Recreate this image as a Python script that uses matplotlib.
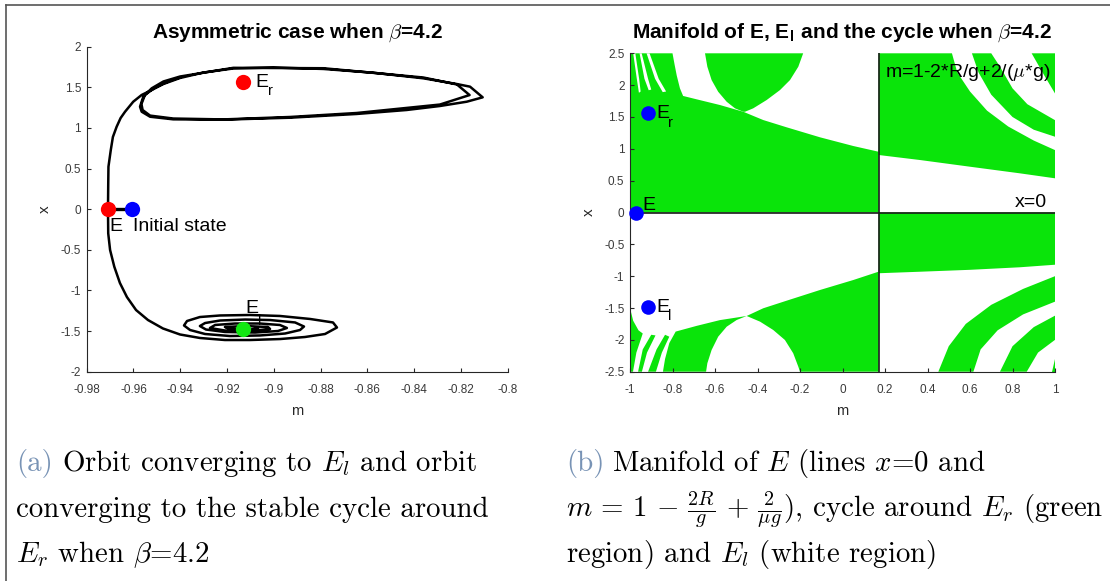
import matplotlib
matplotlib.use("Agg")
import matplotlib.pyplot as plt
from matplotlib.patches import Polygon
from matplotlib.lines import Line2D

plt.rcParams["mathtext.fontset"] = "cm"
plt.rcParams["axes.unicode_minus"] = False
plt.rcParams["font.family"] = ["Liberation Sans", "DejaVu Sans"]

SANS = "Liberation Sans"
SERIF = "cmr10"
GREEN = "#0ae40a"
AX_COL = "#262626"
TICK_COL = "#3a3a3a"
CAP_BLUE = "#7893b5"

# ---------------- panel (a) data ----------------
a_xticks = [-0.98, -0.96, -0.94, -0.92, -0.9, -0.88, -0.86, -0.84, -0.82, -0.8]
a_xticklabels = ["-0.98", "-0.96", "-0.94", "-0.92", "-0.9", "-0.88", "-0.86", "-0.84", "-0.82", "-0.8"]
a_yticks = [2, 1.5, 1, 0.5, 0, -0.5, -1, -1.5, -2]
a_yticklabels = ["2", "1.5", "1", "0.5", "0", "-0.5", "-1", "-1.5", "-2"]

E_m, E_x = -0.9708, 0.0
init_m, init_x = -0.9608, 0.0
Er_m, Er_x = -0.913, 1.56
El_m, El_x = -0.913, -1.478

orbit_up_m = [-0.9709, -0.9708, -0.9707, -0.9697, -0.9688, -0.9672, -0.9655, -0.9636, -0.9601,
              -0.9565, -0.9522, -0.9472, -0.9401, -0.9301, -0.9173, -0.9002, -0.8788, -0.8575,
              -0.8361, -0.8218, -0.8161, -0.8107, -0.8175, -0.8290, -0.8432, -0.8646, -0.8931,
              -0.9216, -0.9430, -0.9529, -0.9565, -0.9572, -0.9558, -0.9522, -0.9472, -0.9401,
              -0.9173, -0.8788, -0.8361, -0.8217, -0.8163, -0.8290, -0.8646, -0.8931, -0.9216,
              -0.9430, -0.9529, -0.9561, -0.9566, -0.9551, -0.9508, -0.9452, -0.9401]
orbit_up_x = [0.0, 0.298, 0.523, 0.729, 0.889, 1.015, 1.122, 1.200, 1.323,
              1.406, 1.467, 1.541, 1.615, 1.682, 1.732, 1.744, 1.726, 1.680,
              1.611, 1.541, 1.508, 1.377, 1.323, 1.270, 1.221, 1.172, 1.126,
              1.102, 1.106, 1.138, 1.200, 1.262, 1.385, 1.488, 1.572, 1.633,
              1.740, 1.735, 1.621, 1.535, 1.405, 1.288, 1.184, 1.135, 1.105,
              1.116, 1.152, 1.221, 1.295, 1.406, 1.498, 1.572, 1.621]

orbit_down_m = [-0.9709, -0.9708, -0.9700, -0.9682, -0.9658, -0.9628, -0.9589, -0.9538, -0.9474,
                -0.9401, -0.9316, -0.9209, -0.9102, -0.8973, -0.8867, -0.8781, -0.8730, -0.8747,
                -0.8845, -0.8974, -0.9102, -0.9230, -0.9316, -0.9371, -0.9384, -0.9358, -0.9294,
                -0.9187, -0.9059, -0.8952, -0.8888, -0.8871, -0.8909, -0.9016, -0.9123, -0.9230,
                -0.9294, -0.9316, -0.9290, -0.9209, -0.9080, -0.8982, -0.8944, -0.8974, -0.9059,
                -0.9166, -0.9251, -0.9273, -0.9209, -0.9080, -0.9016, -0.9025, -0.9123, -0.9209,
                -0.9187, -0.9102, -0.9068]
orbit_down_x = [0.0, -0.297, -0.502, -0.708, -0.908, -1.081, -1.241, -1.364, -1.468,
                -1.542, -1.585, -1.610, -1.610, -1.598, -1.573, -1.536, -1.456, -1.394,
                -1.351, -1.314, -1.302, -1.308, -1.327, -1.376, -1.431, -1.487, -1.536,
                -1.561, -1.554, -1.530, -1.487, -1.444, -1.394, -1.364, -1.358, -1.370,
                -1.401, -1.438, -1.481, -1.511, -1.518, -1.499, -1.462, -1.425, -1.407,
                -1.407, -1.425, -1.462, -1.493, -1.493, -1.474, -1.450, -1.438, -1.450,
                -1.474, -1.481, -1.468]

# ---------------- panel (b) data ----------------
b_xticks = [-1, -0.8, -0.6, -0.4, -0.2, 0, 0.2, 0.4, 0.6, 0.8, 1]
b_xticklabels = ["-1", "-0.8", "-0.6", "-0.4", "-0.2", "0", "0.2", "0.4", "0.6", "0.8", "1"]
b_yticks = [2.5, 2, 1.5, 1, 0.5, 0, -0.5, -1, -1.5, -2, -2.5]
b_yticklabels = ["2.5", "2", "1.5", "1", "0.5", "0", "-0.5", "-1", "-1.5", "-2", "-2.5"]

m_star = 0.17                  # m = 1 - 2R/g + 2/(mu g)
manifold_h_m = [-1.0, 1.0]
manifold_h_x = [0.0, 0.0]
manifold_v_m = [m_star, m_star]
manifold_v_x = [-2.5, 2.5]

# green (cycle around Er) regions, vertices as (m, x)
green_upper_left = [(0.17, 0.0), (0.17, 0.954), (0.051, 1.044), (-0.106, 1.181), (-0.263, 1.338),
                    (-0.373, 1.452), (-0.467, 1.582), (-0.577, 1.688), (-0.686, 1.777),
                    (-0.75, 1.83), (-0.765, 1.95), (-0.78, 2.15), (-0.79, 2.32), (-0.80, 2.5),
                    (-1.0, 2.5), (-1.0, 0.0)]
green_top_bowl = [(-0.647, 2.5), (-0.636, 2.289), (-0.616, 2.080), (-0.585, 1.896), (-0.545, 1.739),
                  (-0.506, 1.636), (-0.467, 1.582), (-0.459, 1.582), (-0.420, 1.636),
                  (-0.357, 1.766), (-0.294, 1.923), (-0.247, 2.080), (-0.208, 2.289), (-0.185, 2.5)]
white_stripes_ul = [
    [(-0.985, 2.5), (-0.975, 2.5), (-0.957, 2.1), (-0.950, 1.90), (-0.958, 1.88), (-0.968, 2.1)],
    [(-0.955, 2.5), (-0.945, 2.5), (-0.915, 2.1), (-0.900, 1.93), (-0.912, 1.92), (-0.932, 2.1)],
    [(-0.922, 2.5), (-0.908, 2.5), (-0.865, 2.1), (-0.830, 1.90), (-0.846, 1.89), (-0.882, 2.1)],
]
green_lower_right_of_bowl = [(0.17, -0.929), (0.051, -1.060), (-0.106, -1.217), (-0.263, -1.385),
                             (-0.373, -1.504), (-0.451, -1.625), (-0.388, -1.714), (-0.326, -1.845),
                             (-0.271, -2.002), (-0.232, -2.210), (-0.208, -2.421), (-0.2, -2.5),
                             (0.17, -2.5)]
green_lower_left_of_bowl = [(-0.451, -1.625), (-0.498, -1.688), (-0.545, -1.793), (-0.585, -1.950),
                            (-0.616, -2.159), (-0.636, -2.367), (-0.642, -2.5), (-0.845, -2.5),
                            (-0.835, -2.3), (-0.815, -2.05), (-0.785, -1.87), (-0.686, -1.78),
                            (-0.577, -1.69)]
green_stripes_ll = [
    [(-0.915, -2.5), (-0.878, -2.5), (-0.850, -2.2), (-0.815, -1.95), (-0.835, -1.92), (-0.875, -2.15)],
    [(-0.962, -2.5), (-0.944, -2.5), (-0.920, -2.2), (-0.880, -1.93), (-0.900, -1.92), (-0.940, -2.15)],
    [(-1.0, -2.5), (-0.986, -2.5), (-0.970, -2.2), (-0.940, -1.90), (-0.960, -1.85), (-0.985, -1.70),
     (-1.0, -1.5)],
]
green_upper_right = [(0.17, 0.903), (0.17, 2.5), (0.515, 2.5), (0.54, 2.2), (0.60, 1.9), (0.68, 1.6),
                     (0.78, 1.35), (0.90, 1.13), (1.0, 0.98), (1.0, 0.537), (0.835, 0.615),
                     (0.60, 0.719), (0.365, 0.824)]
green_upper_right_band = [(0.609, 2.5), (0.70, 2.5), (0.741, 2.29), (0.80, 1.95), (0.87, 1.70),
                          (1.0, 1.45), (1.0, 1.19), (0.90, 1.30), (0.80, 1.50), (0.70, 1.85),
                          (0.64, 2.2)]
green_upper_right_corner = [(0.89, 2.5), (1.0, 2.5), (1.0, 1.87), (0.95, 2.15)]
green_lower_right = [(0.17, 0.0), (1.0, 0.0), (1.0, -0.82), (0.835, -0.86), (0.60, -0.90),
                     (0.365, -0.93), (0.17, -0.954)]
green_lower_arc1 = [(0.451, -2.5), (0.50, -2.1), (0.58, -1.75), (0.70, -1.45), (0.85, -1.2),
                    (1.0, -1.0), (1.0, -1.4), (0.85, -1.6), (0.73, -1.85), (0.65, -2.15),
                    (0.616, -2.5)]
green_lower_arc2 = [(0.741, -2.5), (0.80, -2.1), (0.90, -1.8), (1.0, -1.62), (1.0, -2.0),
                    (0.92, -2.2), (0.867, -2.5)]
green_lower_corner = [(0.985, -2.5), (1.0, -2.5), (1.0, -2.3)]

green_regions = ([green_upper_left, green_top_bowl, green_lower_right_of_bowl,
                  green_lower_left_of_bowl, green_upper_right, green_upper_right_band,
                  green_upper_right_corner, green_lower_right, green_lower_arc1,
                  green_lower_arc2, green_lower_corner] + green_stripes_ll)

# ---------------- figure ----------------
W, H = 1110, 581
fig = plt.figure(figsize=(W / 100, H / 100), dpi=100)


def fx(px):
    return px / W


def fy(py):
    return 1 - py / H


axA = fig.add_axes([fx(86.7), fy(371.7), (507.7 - 86.7) / W, (371.7 - 46.7) / H])
axB = fig.add_axes([fx(630), fy(371.7), 425 / W, (371.7 - 53.3) / H])


def style(ax):
    for s in ["top", "right"]:
        ax.spines[s].set_visible(False)
    for s in ["left", "bottom"]:
        ax.spines[s].set_color(AX_COL)
        ax.spines[s].set_linewidth(0.8)
    ax.tick_params(direction="in", length=3, width=0.8, color=AX_COL,
                   labelcolor=TICK_COL, labelsize=8.5)
    ax.tick_params(axis="x", pad=9)
    ax.tick_params(axis="y", pad=4)


# ---- panel (a) ----
axA.plot(orbit_up_m, orbit_up_x, color="black", lw=1.8, zorder=3, solid_joinstyle="round")
axA.plot(orbit_down_m, orbit_down_x, color="black", lw=1.8, zorder=3, solid_joinstyle="round")
axA.plot([E_m, init_m], [E_x, init_x], color="black", lw=2.4, zorder=3)
axA.plot([Er_m], [Er_x], "o", ms=11, color="#ff0000", mec="none", zorder=5)
axA.plot([E_m], [E_x], "o", ms=11, color="#ff0000", mec="none", zorder=5)
axA.plot([init_m], [init_x], "o", ms=11, color="#0000ff", mec="none", zorder=5)
axA.plot([El_m], [El_x], "o", ms=11, color="#12e812", mec="none", zorder=5)

TXT = 14
axA.text(-0.9079, 1.508, "E", fontsize=TXT, va="baseline", zorder=2)
axA.text(-0.9024, 1.406, "r", fontsize=10.5, va="baseline", zorder=2)
axA.text(-0.9705, -0.27, "E", fontsize=TXT, va="baseline", zorder=2)
axA.text(-0.9603, -0.27, "Initial state", fontsize=TXT, va="baseline", zorder=2)
axA.text(-0.9123, -1.281, "E", fontsize=TXT, va="baseline", zorder=2)
axA.text(-0.9066, -1.425, "l", fontsize=10.5, va="baseline", zorder=2)

axA.set_xlim(-0.98, -0.8)
axA.set_ylim(-2, 2)
axA.set_xticks(a_xticks)
axA.set_xticklabels(a_xticklabels)
axA.set_yticks(a_yticks)
axA.set_yticklabels(a_yticklabels)
style(axA)
axA.set_title(r"Asymmetric case when $\beta$=4.2", fontsize=15, fontweight="bold", pad=6.8)
axA.set_xlabel("m", fontsize=10.5, color=AX_COL)
axA.xaxis.label.set_va("baseline")
axA.xaxis.set_label_coords(0.5, -(415 - 371.7) / 325)
axA.set_ylabel("x", fontsize=11, color=AX_COL)
axA.yaxis.label.set_va("center")
axA.yaxis.set_label_coords(-(86.7 - 44.5) / 421, 0.5)

# ---- panel (b) ----
for poly in green_regions:
    axB.add_patch(Polygon(poly, closed=True, facecolor=GREEN, edgecolor="none", zorder=1))
for poly in white_stripes_ul:
    axB.add_patch(Polygon(poly, closed=True, facecolor="white", edgecolor="none", zorder=1.5))
axB.plot(manifold_h_m, manifold_h_x, color="#1a1a1a", lw=1.2, zorder=3)
axB.plot(manifold_v_m, manifold_v_x, color="#1a1a1a", lw=1.2, zorder=3)
axB.plot([Er_m], [Er_x], "o", ms=10.5, color="#0000ff", mec="none", zorder=5, clip_on=False)
axB.plot([E_m], [E_x], "o", ms=10.5, color="#0000ff", mec="none", zorder=5, clip_on=False)
axB.plot([El_m], [El_x], "o", ms=10.5, color="#0000ff", mec="none", zorder=5, clip_on=False)

axB.text(-0.8776, 1.479, "E", fontsize=TXT, va="baseline", zorder=4)
axB.text(-0.8198, 1.338, "r", fontsize=10.5, va="baseline", zorder=4)
axB.text(-0.940, 0.039, "E", fontsize=TXT, va="baseline", zorder=4)
axB.text(-0.8776, -1.557, "E", fontsize=TXT, va="baseline", zorder=4)
axB.text(-0.8198, -1.688, "l", fontsize=10.5, va="baseline", zorder=4)
axB.text(0.20, 2.13, r"m=1-2*R/g+2/($\mu$*g)", fontsize=TXT, va="baseline", zorder=4)
axB.text(0.812, 0.091, "x=0", fontsize=TXT, va="baseline", zorder=4)

axB.set_xlim(-1, 1)
axB.set_ylim(-2.5, 2.5)
axB.set_xticks(b_xticks)
axB.set_xticklabels(b_xticklabels)
axB.set_yticks(b_yticks)
axB.set_yticklabels(b_yticklabels)
style(axB)
axB.set_title(r"Manifold of E, E$_\mathregular{l}$ and the cycle when $\beta$=4.2",
              fontsize=15, fontweight="bold", pad=11.5)
axB.set_xlabel("m", fontsize=10.5, color=AX_COL)
axB.xaxis.label.set_va("baseline")
axB.xaxis.set_label_coords(0.5, -(415 - 371.7) / 318.4)
axB.set_ylabel("x", fontsize=11, color=AX_COL)
axB.yaxis.label.set_va("center")
axB.yaxis.set_label_coords(-(630 - 588.6) / 425, 0.5)

# ---- frame ----
fig.add_artist(Line2D([fx(6), 1], [fy(5), fy(5)], color="#555555", lw=1.2))
fig.add_artist(Line2D([fx(6), fx(6)], [fy(5), 0], color="#555555", lw=1.2))

# ---- captions ----
CAP = 20.8
fig.text(fx(16), fy(470.7), "(a)", family=SERIF, fontsize=CAP, color=CAP_BLUE, va="baseline")
fig.text(fx(62.5), fy(470.7), r"Orbit converging to $E_l$ and orbit", family=SERIF,
         fontsize=CAP, va="baseline")
fig.text(fx(16), fy(516.7), "converging to the stable cycle around", family=SERIF,
         fontsize=CAP, va="baseline")
fig.text(fx(16), fy(561.7), r"$E_r$ when $\beta$=4.2", family=SERIF, fontsize=CAP, va="baseline")

fig.text(fx(566), fy(470.7), "(b)", family=SERIF, fontsize=CAP, color=CAP_BLUE, va="baseline")
fig.text(fx(611.8), fy(470.7), r"Manifold of $E$ (lines $x$=0 and", family=SERIF,
         fontsize=CAP, va="baseline")
fig.text(fx(566), fy(516.7),
         r"$m\,=\,1\,-\,\frac{2R}{g}\,+\,\frac{2}{\mu g}$), cycle around $E_r$ (green",
         family=SERIF, fontsize=CAP, va="baseline")
fig.text(fx(566), fy(561.7), r"region) and $E_l$ (white region)", family=SERIF,
         fontsize=CAP, va="baseline")

fig.savefig("out.png", dpi=100)
